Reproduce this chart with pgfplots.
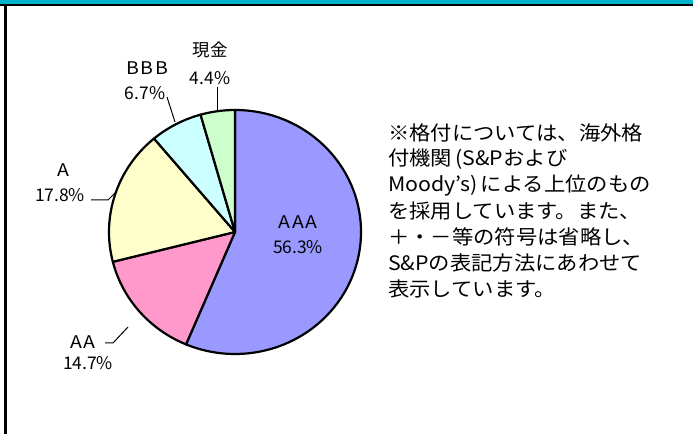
\documentclass[border=0pt]{standalone}
\usepackage{fontspec}
\setmainfont{Noto Sans CJK JP}
\newfontfamily\bodyfont[FakeStretch=1.07]{Noto Sans CJK JP}
\newfontfamily\labfont{Noto Sans CJK JP}
\newfontfamily\capfont[FakeStretch=1.12,LetterSpace=10]{Noto Sans CJK JP}
\usepackage{pgfplots}
\pgfplotsset{compat=1.18}
\definecolor{tealbar}{RGB}{0,178,204}
\definecolor{cAAA}{HTML}{9999FF}
\definecolor{cAA}{HTML}{FF99CC}
\definecolor{cA}{HTML}{FFFFCC}
\definecolor{cBBB}{HTML}{CCFFFF}
\definecolor{cCash}{HTML}{CCFFCC}
% data (percent)
\def\vAAA{56.3}
\def\vAA{14.7}
\def\vA{17.8}
\def\vBBB{6.7}
\def\vCash{4.4}
\begin{document}
\begin{tikzpicture}
\pgfmathsetmacro\tot{\vAAA+\vAA+\vA+\vBBB+\vCash}
\pgfmathsetmacro\aA{90}
\pgfmathsetmacro\aB{\aA-\vAAA/\tot*360}
\pgfmathsetmacro\aC{\aB-\vAA/\tot*360}
\pgfmathsetmacro\aD{\aC-\vA/\tot*360}
\pgfmathsetmacro\aE{\aD-\vBBB/\tot*360}
\pgfmathsetmacro\aF{\aE-\vCash/\tot*360}
\begin{axis}[width=693bp,height=434bp,scale only axis,
  xmin=0,xmax=693,ymin=0,ymax=434,hide axis,clip=false]
% frame
\fill[tealbar] (axis cs:0,430) rectangle (axis cs:693,434);
\fill[black] (axis cs:0,427.5) rectangle (axis cs:693,430);
\fill[black] (axis cs:4,0) rectangle (axis cs:7,430);
% pie
\def\pc{(axis cs:235,202)}
\filldraw[fill=cAAA,line width=2.2bp,line join=round] \pc -- ++(\aA:126bp and 122bp) arc[start angle=\aA,end angle=\aB,x radius=126bp,y radius=122bp] -- cycle;
\filldraw[fill=cAA,line width=2.2bp,line join=round] \pc -- ++(\aB:126bp and 122bp) arc[start angle=\aB,end angle=\aC,x radius=126bp,y radius=122bp] -- cycle;
\filldraw[fill=cA,line width=2.2bp,line join=round] \pc -- ++(\aC:126bp and 122bp) arc[start angle=\aC,end angle=\aD,x radius=126bp,y radius=122bp] -- cycle;
\filldraw[fill=cBBB,line width=2.2bp,line join=round] \pc -- ++(\aD:126bp and 122bp) arc[start angle=\aD,end angle=\aE,x radius=126bp,y radius=122bp] -- cycle;
\filldraw[fill=cCash,line width=2.2bp,line join=round] \pc -- ++(\aE:126bp and 122bp) arc[start angle=\aE,end angle=\aF,x radius=126bp,y radius=122bp] -- cycle;
% leader lines
\draw[line width=1bp] (axis cs:217,347) -- (axis cs:217,323);
\draw[line width=1bp] (axis cs:167,337) -- (axis cs:175,312);
\draw[line width=1bp] (axis cs:91,234) -- (axis cs:108,234) -- (axis cs:115,241);
\draw[line width=1bp] (axis cs:105,91) -- (axis cs:113,91) -- (axis cs:128,107);
% labels
\tikzset{lab/.style={inner sep=0pt,font=\labfont\fontsize{17.5}{20}\selectfont},
  caplab/.style={inner sep=0pt,font=\capfont\fontsize{17.5}{20}\selectfont}}
\node[caplab] at (axis cs:298,212) {AAA};
\node[lab] at (axis cs:298,187) {56.3\%};
\node[caplab] at (axis cs:83,92) {AA};
\node[lab] at (axis cs:88,71) {14.7\%};
\node[caplab] at (axis cs:63,264) {A};
\node[lab] at (axis cs:60,239) {17.8\%};
\node[caplab] at (axis cs:147,366) {BBB};
\node[lab] at (axis cs:145,341) {6.7\%};
\node[lab] at (axis cs:210,384) {現金};
\node[lab] at (axis cs:210,356) {4.4\%};
% note text
\tikzset{note/.style={anchor=west,inner sep=0pt,font=\bodyfont\fontsize{20}{26}\selectfont}}
\node[note] at (axis cs:388,301) {※格付については、海外格};
\node[note] at (axis cs:388,275) {付機関\,(S\&Pおよび};
\node[note] at (axis cs:388,249) {Moody’s)\,による上位のもの};
\node[note] at (axis cs:388,223) {を採用しています。また、};
\node[note] at (axis cs:388,197) {＋・－等の符号は省略し、};
\node[note] at (axis cs:388,171) {S\&Pの表記方法にあわせて};
\node[note] at (axis cs:388,145) {表示しています。};
\end{axis}
\end{tikzpicture}
\end{document}
